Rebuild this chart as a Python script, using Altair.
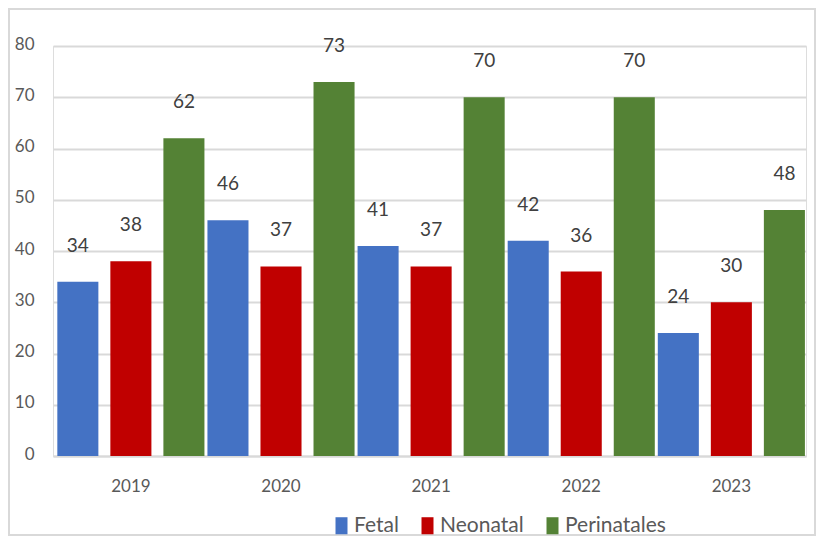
import altair as alt
import pandas as pd

years = ["2019", "2020", "2021", "2022", "2023"]
series = ["Fetal", "Neonatal", "Perinatales"]
fetal = [34, 46, 41, 42, 24]
neonatal = [38, 37, 37, 36, 30]
perinatales = [62, 73, 70, 70, 48]
colors = ["#4472C4", "#C00000", "#548235"]

rows = []
for i, y in enumerate(years):
    for s, vals in zip(series, [fetal, neonatal, perinatales]):
        rows.append({"year": y, "serie": s, "value": vals[i]})
df = pd.DataFrame(rows)

FONT = "Lato, Open Sans, sans-serif"

base = alt.Chart(df).encode(
    x=alt.X("year:N", sort=years,
            scale=alt.Scale(paddingInner=0.02, paddingOuter=0.018, align=0.8),
            axis=alt.Axis(title=None, labelAngle=0, domain=True, domainColor="#D9D9D9",
                          domainWidth=2, ticks=False, labelFontSize=17, labelColor="#595959",
                          labelPadding=22, labelFont=FONT)),
    xOffset=alt.XOffset("serie:N", sort=series,
                        scale=alt.Scale(paddingInner=0.226, paddingOuter=0)),
)

bars = base.mark_bar().encode(
    y=alt.Y("value:Q", scale=alt.Scale(domain=[0, 80], nice=False),
            axis=alt.Axis(title=None, values=list(range(0, 81, 10)), domain=False, ticks=False,
                          gridColor="#D9D9D9", gridWidth=2, labelFontSize=17,
                          labelColor="#595959", labelPadding=19, labelFont=FONT,
                          labelOffset=-2)),
    color=alt.Color("serie:N", sort=series,
                    scale=alt.Scale(domain=series, range=colors),
                    legend=alt.Legend(title=None, orient="none", direction="horizontal",
                                      legendX=278, legendY=469,
                                      symbolType="M-1,-1.42H1V1.42H-1Z",
                                      symbolSize=144, symbolStrokeWidth=0,
                                      labelFontSize=21, labelColor="#595959",
                                      labelFont=FONT, columnPadding=18, labelOffset=2,
                                      symbolOffset=0, padding=0)),
)

labels = base.mark_text(fontSize=19, color="#404040", baseline="middle", dy=-36, font=FONT).encode(
    y="value:Q",
    text="value:Q",
)

border = alt.Chart(pd.DataFrame({"a": [0]})).mark_rect(
    fill=None, stroke="#D9D9D9", strokeWidth=2
).encode(
    x=alt.value(-44), x2=alt.value(762), y=alt.value(-37), y2=alt.value(489)
)

chart = alt.layer(border, bars, labels).properties(
    width=753, height=410, padding=0
).configure_view(stroke=None).configure(background="white")

chart.save("out.html", embed_options={"renderer": "svg", "actions": False})
